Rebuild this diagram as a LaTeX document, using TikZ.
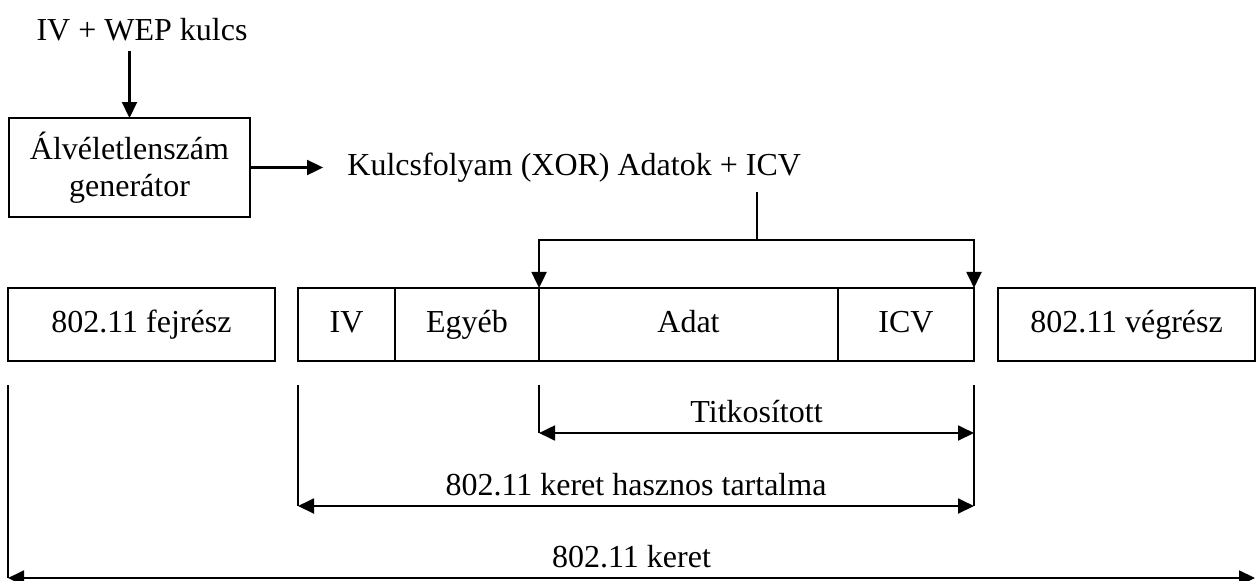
\documentclass[tikz,border=0pt]{standalone}
\usepackage{fontspec}
\setmainfont{Liberation Serif}
\usepackage{tikz}
\usetikzlibrary{arrows.meta,positioning}

\begin{document}
\begin{tikzpicture}[
        x=0.375pt,
        y=-0.375pt,
        font=\fontsize{12}{14}\selectfont,
        field/.style={
            rectangle,
            draw,
            line width=1pt,
            minimum height=27.4pt,
            text height=8.5pt,
            text depth=2.5pt,
            inner sep=0pt,
            outer sep=0pt,
            text centered
        },
        generator/.style={
            rectangle,
            draw,
            line width=1pt,
            minimum width=90.4pt,
            minimum height=37.1pt,
            outer sep=0pt,
            align=center
        },
        arrow/.style={
            -{Triangle[length=6pt,width=5.6pt]},
            line width=0.8pt
        },
        dimarrow/.style={
            {Triangle[length=6pt,width=5.6pt]}-{Triangle[length=6pt,width=5.6pt]},
            line width=0.8pt
        },
        guide/.style={
            line width=0.8pt
        }
    ]
    \useasboundingbox (0,0) rectangle (1258,580);

    % Key input (top left)
    \node (key) at (142,30) {IV + WEP kulcs};

    % Pseudo random generator
    \node[generator] (gen) at (129.5,167.5) {Álvéletlenszám\\generátor};

    % Keystream XOR data
    \node[right=33pt of gen] (stream) {Kulcsfolyam (XOR) Adatok + ICV};

    % Frame fields
    \node[field, minimum width=100.1pt, anchor=west] (fejresz) at (8,324.5) {802.11 fejrész};
    \node[field, minimum width=36.4pt, anchor=west] (iv) at (298,324.5) {IV};
    \node[field, minimum width=54pt, right=0pt of iv] (egyeb) {Egyéb};
    \node[field, minimum width=112.1pt, right=0pt of egyeb] (adat) {Adat};
    \node[field, minimum width=51pt, right=0pt of adat] (icv) {ICV};
    \node[field, minimum width=96.4pt, anchor=west] (vegresz) at (998,324.5) {802.11 végrész};

    % Arrows of the encryption
    \draw[arrow] (gen.north |- key.south) -- (gen.north);
    \draw[arrow, shorten >=5.6pt] (gen) -- (stream);
    \coordinate (fork) at (757,240);
    \draw[guide] (stream.south -| fork) -- (fork);
    \draw[arrow] (fork) -| (adat.north west);
    \draw[arrow] (fork) -| (icv.north east);

    % Ends of the spans
    \coordinate (tl) at (adat.south west |- 0,433);
    \coordinate (tr) at (icv.south east |- 0,433);
    \coordinate (hl) at (iv.south west |- 0,506);
    \coordinate (hr) at (icv.south east |- 0,506);
    \coordinate (kl) at (fejresz.south west |- 0,578);
    \coordinate (kr) at (vegresz.south east |- 0,578);

    % Guide lines
    \draw[guide] (adat.south west |- 0,385) -- (tl);
    \draw[guide] (icv.south east |- 0,385) -- (hr);
    \draw[guide] (iv.south west |- 0,385) -- (hl);
    \draw[guide] (fejresz.south west |- 0,385) -- (kl);

    % Spans
    \draw[dimarrow] (tl) -- node[above] {Titkosított} (tr);
    \draw[dimarrow] (hl) -- node[above] {802.11 keret hasznos tartalma} (hr);
    \draw[dimarrow] (kl) -- node[above] {802.11 keret} (kr);

\end{tikzpicture}
\end{document}
